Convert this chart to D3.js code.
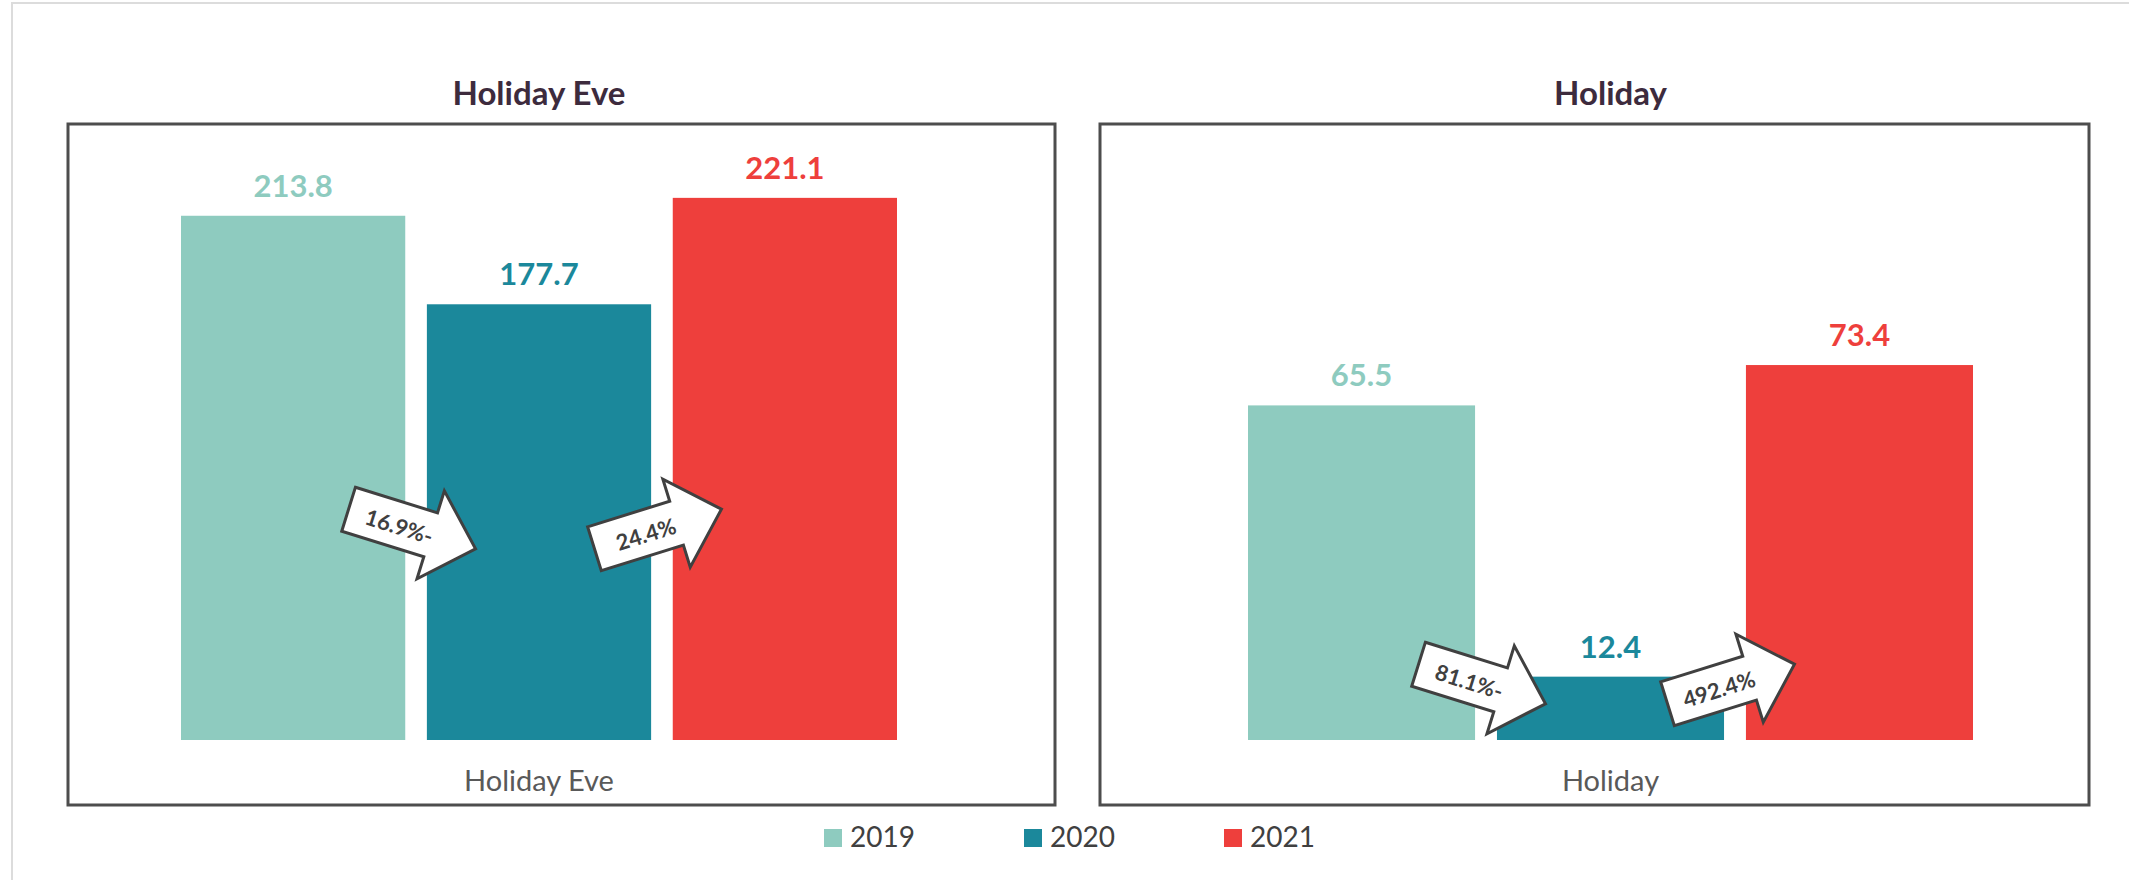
<!DOCTYPE html>
<html>
<head>
	<meta charset="UTF-8" />
	<title>Holiday Eve / Holiday</title>
	<script src="https://d3js.org/d3.v7.min.js"></script>
	<style>
		body { margin: 0; background: #fff; }
		text { font-family: Lato, "Open Sans", sans-serif; }
	</style>
</head>
<body>
	<svg id="chart" style="width:2129px; height:880px; display:block"></svg>

	<script type="text/javascript">
	// data
	const panelNames = ["Holiday Eve", "Holiday"]
	const years = ["2019", "2020", "2021"]
	const holidayEveValues = [213.8, 177.7, 221.1]
	const holidayValues = [65.5, 12.4, 73.4]
	const holidayEveChanges = ["16.9%-", "24.4%"]
	const holidayChanges = ["81.1%-", "492.4%"]

	// colors
	const teal0 = "#8ecbbf"
	const teal1 = "#1b889b"
	const red0 = "#ee3f3c"
	const titleColor = "#3d2b3d"
	const frameColor = "#4d4d4d"
	const textGray = "#595959"
	const darkGray = "#404040"

	const svg = d3.select("#chart")
	const color = d3.scaleOrdinal().domain(years).range([teal0, teal1, red0])

	// light outer frame
	svg.append("path")
		.attr("d", "M12,880 V3 H2129")
		.style("fill", "none")
		.style("stroke", "#dcdcdc")
		.style("stroke-width", 2)

	// per panel layout (box + plot area + axis max)
	const panels = [
		{ name: panelNames[0], values: holidayEveValues, changes: holidayEveChanges,
		  box: [68, 124, 987, 681], plotX: [181, 897], yMax: 250, arrowUp: 211 },
		{ name: panelNames[1], values: holidayValues, changes: holidayChanges,
		  box: [1100, 124, 989, 681], plotX: [1248, 1973], yMax: 120, arrowUp: 56 }
	]

	const baseY = 740
	const topY = 127

	// arrow shape pointing right, centred at 0,0
	const arrowPts = [[-66.5,-23],[19.5,-23],[19.5,-46],[66.5,0],[19.5,46],[19.5,23],[-66.5,23]]
	const arrowLine = d3.line()

	panels.forEach(p => {
		const g = svg.append("g")

		g.append("rect")
			.attr("x", p.box[0]).attr("y", p.box[1])
			.attr("width", p.box[2]).attr("height", p.box[3])
			.style("fill", "#fff")
			.style("stroke", frameColor)
			.style("stroke-width", 3)

		const xScale = d3.scaleBand().domain(years).range(p.plotX).paddingInner(0.088)
		const yScale = d3.scaleLinear().domain([0, p.yMax]).range([baseY, topY])
		const midX = (p.plotX[0] + p.plotX[1]) / 2

		// title
		g.append("text")
			.attr("x", midX).attr("y", 105)
			.attr("text-anchor", "middle")
			.style("font-size", "33px")
			.style("font-weight", "bold")
			.style("fill", titleColor)
			.text(p.name)

		// bars
		g.selectAll("rect.bar")
			.data(p.values)
			.join("rect")
			.attr("class", "bar")
			.attr("x", (d, i) => xScale(years[i]))
			.attr("y", d => yScale(d))
			.attr("width", xScale.bandwidth())
			.attr("height", d => baseY - yScale(d))
			.style("fill", (d, i) => color(years[i]))

		// value labels
		g.selectAll("text.val")
			.data(p.values)
			.join("text")
			.attr("class", "val")
			.attr("x", (d, i) => xScale(years[i]) + xScale.bandwidth() / 2)
			.attr("y", d => yScale(d) - 19)
			.attr("text-anchor", "middle")
			.style("font-size", "31px")
			.style("font-weight", "bold")
			.style("fill", (d, i) => color(years[i]))
			.text(d => d.toFixed(1))

		// category label
		g.append("text")
			.attr("x", midX).attr("y", 791)
			.attr("text-anchor", "middle")
			.style("font-size", "29px")
			.style("fill", textGray)
			.text(p.name)

		// change arrows between bars
		p.changes.forEach((label, i) => {
			const gapX = (xScale(years[i]) + xScale.bandwidth() + xScale(years[i + 1])) / 2 - 4
			const angle = p.values[i + 1] < p.values[i] ? 17.3 : -17.3
			const a = g.append("g")
				.attr("transform", `translate(${gapX},${baseY - p.arrowUp}) rotate(${angle})`)
			a.append("path")
				.attr("d", arrowLine(arrowPts) + "Z")
				.style("fill", "#fff")
				.style("stroke", darkGray)
				.style("stroke-width", 3)
				.style("stroke-linejoin", "miter")
			a.append("text")
				.attr("x", -13).attr("y", 1)
				.attr("text-anchor", "middle")
				.attr("dominant-baseline", "central")
				.style("font-size", "22px")
				.style("font-weight", "bold")
				.style("fill", darkGray)
				.text(label)
		})
	})

	// legend
	const legend = svg.append("g")
		.selectAll("g")
		.data(years)
		.join("g")
		.attr("transform", (d, i) => `translate(${824 + i * 200},829)`)

	legend.append("rect")
		.attr("width", 18).attr("height", 18)
		.style("fill", d => color(d))

	legend.append("text")
		.attr("x", 26).attr("y", 18)
		.style("font-size", "28px")
		.style("fill", darkGray)
		.text(d => d)
	</script>
</body>
</html>
